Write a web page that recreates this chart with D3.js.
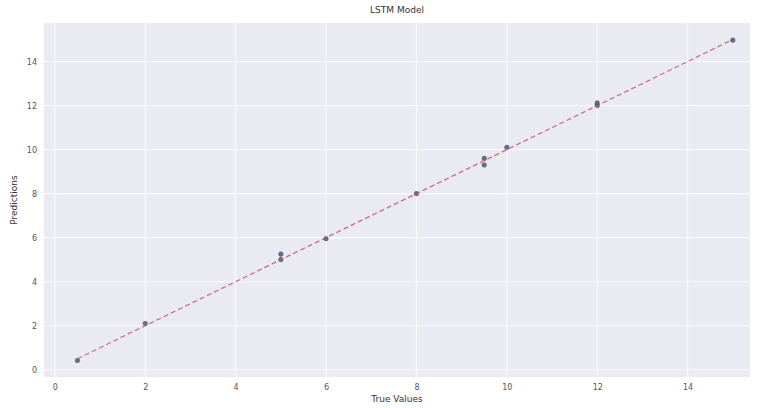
<!DOCTYPE html>
<html>
<head>
<meta charset="utf-8">
<script src="https://cdn.jsdelivr.net/npm/d3@7"></script>
<style>
  body { margin: 0; background: #fff; }
  svg { display: block; }
  text { font-family: "DejaVu Sans", "Liberation Sans", sans-serif; fill: #333; }
</style>
</head>
<body>
<svg id="chart" width="757" height="408"></svg>
<script>
// Data
const trueValues  = [0.5, 2, 5, 5, 6, 8, 9.5, 9.5, 10, 12, 12, 15];
const predictions = [0.42, 2.1, 5.0, 5.25, 5.95, 8.0, 9.3, 9.6, 10.1, 12.0, 12.12, 14.97];
const xTicks = [0, 2, 4, 6, 8, 10, 12, 14];
const yTicks = [0, 2, 4, 6, 8, 10, 12, 14];
const titleText = "LSTM Model";
const xLabel = "True Values";
const yLabel = "Predictions";

const svg = d3.select("#chart");
const plot = { left: 44, top: 23, right: 750, bottom: 377 };

const x = d3.scaleLinear().domain([-0.24, 15.38]).range([plot.left, plot.right]);
const y = d3.scaleLinear().domain([-0.33, 15.75]).range([plot.bottom, plot.top]);

// background
svg.append("rect")
  .attr("x", plot.left).attr("y", plot.top)
  .attr("width", plot.right - plot.left).attr("height", plot.bottom - plot.top)
  .attr("fill", "#EAEAF2");

// grid
const g = svg.append("g");
g.selectAll(".vg").data(xTicks).join("line")
  .attr("x1", d => x(d)).attr("x2", d => x(d))
  .attr("y1", plot.top).attr("y2", plot.bottom)
  .attr("stroke", "#fff").attr("stroke-width", 1.1).attr("stroke-opacity", 0.8);
g.selectAll(".hg").data(yTicks).join("line")
  .attr("y1", d => y(d)).attr("y2", d => y(d))
  .attr("x1", plot.left).attr("x2", plot.right)
  .attr("stroke", "#fff").attr("stroke-width", 1.1).attr("stroke-opacity", 0.8);

// axes (labels only, no domain lines)
const xAxis = d3.axisBottom(x).tickValues(xTicks).tickSize(0).tickPadding(7).tickFormat(d3.format("d"));
const yAxis = d3.axisLeft(y).tickValues(yTicks).tickSize(0).tickPadding(7).tickFormat(d3.format("d"));
const gx = svg.append("g").attr("transform", `translate(0,${plot.bottom})`).call(xAxis);
const gy = svg.append("g").attr("transform", `translate(${plot.left},0)`).call(yAxis);
[gx, gy].forEach(a => {
  a.select(".domain").remove();
  a.selectAll("text").style("font-size", "8px").style("fill", "#555")
    .style("font-family", "'DejaVu Sans', sans-serif");
});

// points
svg.append("g").selectAll("circle").data(trueValues).join("circle")
  .attr("cx", (d, i) => x(d)).attr("cy", (d, i) => y(predictions[i]))
  .attr("r", 2.3).attr("fill", "#4a5878").attr("fill-opacity", 0.85)
  .attr("stroke", "#3a4560").attr("stroke-width", 0.4);

// identity line from min to max of true values
const lo = d3.min(trueValues), hi = d3.max(trueValues);
svg.append("line")
  .attr("x1", x(lo)).attr("y1", y(lo)).attr("x2", x(hi)).attr("y2", y(hi))
  .attr("stroke", "#c44e60").attr("stroke-width", 1.3)
  .attr("stroke-dasharray", "5,3").attr("stroke-opacity", 0.8);

// title and labels
svg.append("text").attr("x", (plot.left + plot.right) / 2).attr("y", 13)
  .attr("text-anchor", "middle").style("font-size", "9px").text(titleText);
svg.append("text").attr("x", (plot.left + plot.right) / 2).attr("y", 402)
  .attr("text-anchor", "middle").style("font-size", "9px").text(xLabel);
svg.append("text")
  .attr("transform", `translate(17,${(plot.top + plot.bottom) / 2}) rotate(-90)`)
  .attr("text-anchor", "middle").style("font-size", "9px").text(yLabel);
</script>
</body>
</html>
